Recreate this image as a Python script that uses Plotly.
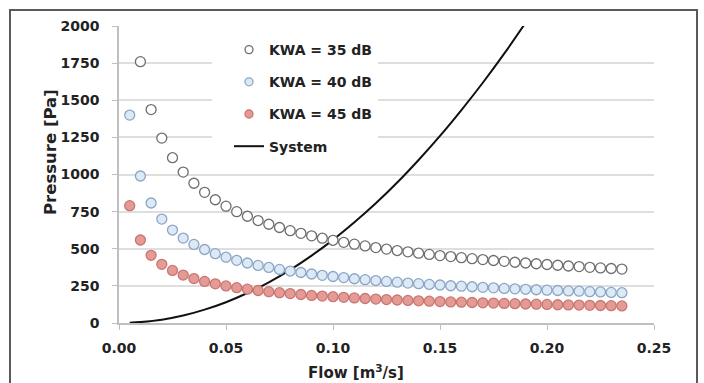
import plotly.graph_objects as go

flow_35 = [0.010, 0.015, 0.020, 0.025, 0.030, 0.035, 0.040, 0.045, 0.050, 0.055,
           0.060, 0.065, 0.070, 0.075, 0.080, 0.085, 0.090, 0.095, 0.100, 0.105,
           0.110, 0.115, 0.120, 0.125, 0.130, 0.135, 0.140, 0.145, 0.150, 0.155,
           0.160, 0.165, 0.170, 0.175, 0.180, 0.185, 0.190, 0.195, 0.200, 0.205,
           0.210, 0.215, 0.220, 0.225, 0.230, 0.235]
kwa_35 = [1760, 1437, 1245, 1113, 1016, 941, 880, 830, 787, 750,
          719, 690, 665, 643, 622, 604, 587, 571, 557, 543,
          531, 519, 508, 498, 488, 479, 470, 462, 454, 447,
          440, 433, 427, 421, 415, 409, 404, 399, 394, 389,
          384, 380, 375, 371, 367, 363]

flow_40_45 = [0.005, 0.010, 0.015, 0.020, 0.025, 0.030, 0.035, 0.040, 0.045, 0.050, 0.055,
              0.060, 0.065, 0.070, 0.075, 0.080, 0.085, 0.090, 0.095, 0.100, 0.105,
              0.110, 0.115, 0.120, 0.125, 0.130, 0.135, 0.140, 0.145, 0.150, 0.155,
              0.160, 0.165, 0.170, 0.175, 0.180, 0.185, 0.190, 0.195, 0.200, 0.205,
              0.210, 0.215, 0.220, 0.225, 0.230, 0.235]
kwa_40 = [1400, 990, 808, 700, 626, 572, 529, 495, 467, 443, 422,
          404, 388, 374, 361, 350, 340, 330, 321, 313, 306,
          298, 292, 286, 280, 275, 269, 265, 260, 256, 251,
          248, 244, 240, 237, 233, 230, 227, 224, 221, 219,
          216, 214, 211, 209, 206, 204]
kwa_45 = [790, 559, 456, 395, 354, 323, 299, 280, 264, 250, 238,
          228, 219, 211, 204, 198, 192, 186, 181, 177, 173,
          169, 165, 161, 158, 155, 152, 149, 147, 144, 142,
          140, 138, 136, 134, 132, 130, 128, 127, 125, 123,
          122, 121, 119, 118, 117, 115]

flow_sys = [0.005, 0.010, 0.020, 0.030, 0.040, 0.050, 0.060, 0.070, 0.080, 0.090,
            0.100, 0.110, 0.120, 0.130, 0.140, 0.150, 0.160, 0.170, 0.180, 0.190]
p_sys = [1, 6, 22, 50, 90, 140, 202, 274, 358, 454,
         560, 678, 806, 946, 1098, 1260, 1434, 1618, 1814, 2022]

x_ticks = [0.00, 0.05, 0.10, 0.15, 0.20, 0.25]
x_labels = ["0.00", "0.05", "0.10", "0.15", "0.20", "0.25"]
y_ticks = [0, 250, 500, 750, 1000, 1250, 1500, 1750, 2000]

names = ["KWA = 35 dB", "KWA = 40 dB", "KWA = 45 dB", "System"]

FONT = "DejaVu Sans"
TXT = "#222222"

s35 = dict(color="#ffffff", line=dict(color="#6e6e6e", width=1.3))
s40 = dict(color="#dde9f5", line=dict(color="#8aa6c6", width=1.3))
s45 = dict(color="#e49b96", line=dict(color="#c97670", width=1.3))

fig = go.Figure()
fig.add_trace(go.Scatter(x=flow_sys, y=p_sys, mode="lines", line=dict(color="#111111", width=2, shape="spline"),
                         showlegend=False, cliponaxis=True))
fig.add_trace(go.Scatter(x=flow_35, y=kwa_35, mode="markers", marker=dict(size=10, **s35), showlegend=False))
fig.add_trace(go.Scatter(x=flow_40_45, y=kwa_40, mode="markers", marker=dict(size=10, **s40), showlegend=False))
fig.add_trace(go.Scatter(x=flow_40_45, y=kwa_45, mode="markers", marker=dict(size=10, **s45), showlegend=False))

# legend entries
for i, (nm, st) in enumerate(zip(names[:3], [s35, s40, s45])):
    fig.add_trace(go.Scatter(x=[None], y=[None], mode="markers", name=nm, legendgroup=f"g{i}",
                             marker=dict(size=8, **st)))
fig.add_trace(go.Scatter(x=[None], y=[None], mode="lines", name=names[3], legendgroup="g3",
                         line=dict(color="#111111", width=2)))

px_w, px_h = 535, 297
def px2x(p):
    return (p - 119) / px_w
def px2y(p):
    return (323 - p) / px_h

shapes = [
    dict(type="rect", xref="paper", yref="paper", x0=px2x(10), x1=px2x(697), y0=px2y(420), y1=px2y(10),
         fillcolor="rgba(0,0,0,0)", line=dict(color="#5a5a5a", width=2), layer="above"),
]

annotations = [
    dict(text="Pressure [Pa]", xref="paper", yref="paper", x=px2x(50), y=px2y(152), showarrow=False,
         textangle=-90, font=dict(family=FONT, size=16.5, color=TXT, weight="bold"), xanchor="center", yanchor="middle"),
    dict(text="Flow [m<sup>3</sup>/s]", xref="paper", yref="paper", x=px2x(356), y=px2y(372), showarrow=False,
         font=dict(family=FONT, size=15, color=TXT, weight="bold"), xanchor="center", yanchor="middle"),
]

fig.update_layout(
    width=704, height=383,
    margin=dict(l=119, r=50, t=26, b=60),
    paper_bgcolor="white", plot_bgcolor="white",
    font=dict(family=FONT, size=14, color=TXT, weight="bold"),
    shapes=shapes, annotations=annotations,
    legend=dict(x=px2x(212), y=px2y(34), xanchor="left", yanchor="top", bgcolor="white",
                indentation=17, tracegroupgap=11,
                font=dict(family=FONT, size=14, color=TXT, weight="bold")),
    xaxis=dict(range=[0, 0.25], tickvals=x_ticks, ticktext=x_labels, showgrid=False, zeroline=False,
               showline=True, linecolor="#bfbfbf", linewidth=1.5, ticks="outside", ticklen=5,
               tickcolor="#bfbfbf", ticklabelstandoff=6,
               tickfont=dict(family=FONT, size=14, color=TXT, weight="bold")),
    yaxis=dict(range=[0, 2000], tickvals=y_ticks, showgrid=True, gridcolor="#dedede", gridwidth=1.5,
               zeroline=False, showline=True, linecolor="#bfbfbf", linewidth=1.5, ticks="outside",
               ticklen=5, tickcolor="#bfbfbf", ticklabelstandoff=10,
               tickfont=dict(family=FONT, size=14, color=TXT, weight="bold")),
)

fig.write_html("out.html", config={"displayModeBar": False},
               post_script="document.body.style.margin='0';document.body.style.overflow='hidden';")
